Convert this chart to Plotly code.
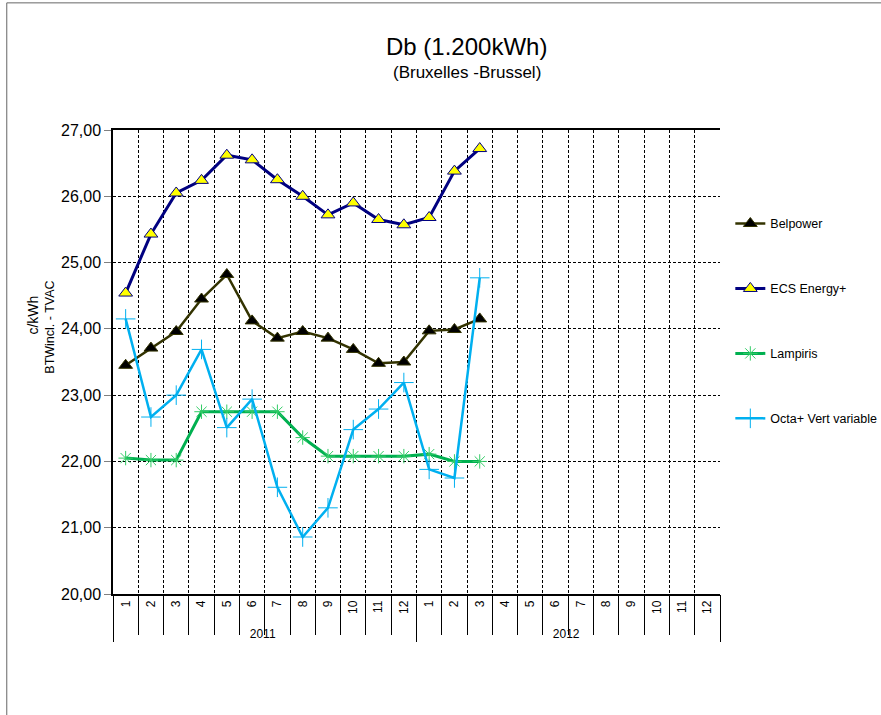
import plotly.graph_objects as go

years_all = ["2011"] * 12 + ["2012"] * 12
months_all = [str(m) for m in range(1, 13)] * 2
slot_keys = [y + "-" + m for y, m in zip(years_all, months_all)]

# data points: 2011 months 1-12 and 2012 months 1-3
data_years = ["2011"] * 12 + ["2012"] * 3
data_months = [str(m) for m in range(1, 13)] + ["1", "2", "3"]

belpower = [23.45, 23.71, 23.96, 24.45, 24.82, 24.12, 23.86, 23.96, 23.86, 23.69, 23.48, 23.50,
            23.97, 23.99, 24.15]
ecs_energy = [24.54, 25.43, 26.05, 26.24, 26.62, 26.55, 26.25, 26.00, 25.72, 25.90, 25.65, 25.57,
              25.68, 26.38, 26.72]
lampiris = [22.05, 22.02, 22.02, 22.75, 22.75, 22.75, 22.75, 22.36, 22.08, 22.08, 22.08, 22.08,
            22.11, 22.00, 22.00]
octa_vert = [24.15, 22.67, 23.00, 23.69, 22.51, 22.94, 21.61, 20.86, 21.30, 22.48, 22.79, 23.19,
             21.88, 21.75, 24.77]

FONT = "Liberation Sans, Arial, sans-serif"

fig = go.Figure()

# invisible traces to establish all 24 categories on both x axes
fig.add_trace(go.Scatter(x=[years_all, months_all], y=[None] * 24, mode="markers",
                         showlegend=False, hoverinfo="skip", marker=dict(opacity=0)))
fig.add_trace(go.Scatter(x=slot_keys, y=[None] * 24, xaxis="x2", mode="markers",
                         showlegend=False, hoverinfo="skip", marker=dict(opacity=0)))

fig.add_trace(go.Scatter(
    x=[data_years, data_months], y=belpower, name="Belpower", legendgroup="a",
    mode="lines+markers", line=dict(color="#333300", width=2.5),
    marker=dict(symbol="triangle-up", size=12, color="#000000", line=dict(color="#333300", width=1))))
fig.add_trace(go.Scatter(
    x=[data_years, data_months], y=ecs_energy, name="ECS Energy+", legendgroup="b",
    mode="lines+markers", line=dict(color="#000080", width=3),
    marker=dict(symbol="triangle-up", size=12, color="#ffff00", line=dict(color="#000080", width=1))))
fig.add_trace(go.Scatter(
    x=[data_years, data_months], y=lampiris, name="Lampiris", legendgroup="c",
    mode="lines+markers", line=dict(color="#00b050", width=3),
    marker=dict(symbol="asterisk-open", size=12, color="#33cc66", line=dict(color="#33cc66", width=1))))
fig.add_trace(go.Scatter(
    x=[data_years, data_months], y=octa_vert, name="Octa+ Vert variable", legendgroup="d",
    mode="lines+markers", line=dict(color="#00b0f0", width=2.5),
    marker=dict(symbol="cross-thin-open", size=14, color="#00b0f0", line=dict(color="#00b0f0", width=1))))

# outer chart frame
fig.add_shape(type="rect", xref="paper", yref="paper", x0=-0.175, x1=2.0, y0=-0.6, y1=1.274,
              line=dict(color="#666666", width=1), layer="below")

fig.add_annotation(text="Db (1.200kWh)", xref="paper", yref="paper", x=0.583, y=1.181,
                   yanchor="middle", showarrow=False, font=dict(size=24, family=FONT, color="#000"))
fig.add_annotation(text="(Bruxelles -Brussel)", xref="paper", yref="paper", x=0.583, y=1.125,
                   yanchor="middle", showarrow=False, font=dict(size=17, family=FONT, color="#000"))

# y-axis title (two lines)
fig.add_annotation(text="c/kWh", xref="paper", yref="paper", x=-0.131, y=0.601, textangle=-90,
                   xanchor="center", yanchor="middle", showarrow=False,
                   font=dict(size=14, family=FONT, color="#000"))
fig.add_annotation(text="BTWincl. - TVAC", xref="paper", yref="paper", x=-0.103, y=0.575,
                   textangle=-90, xanchor="center", yanchor="middle", showarrow=False,
                   font=dict(size=12.5, family=FONT, color="#000"))

fig.update_layout(
    width=881, height=715,
    margin=dict(l=113, r=161, t=130, b=121, autoexpand=False),
    paper_bgcolor="white", plot_bgcolor="white",
    separators=", ",
    font=dict(family=FONT, color="#000", size=12),
    showlegend=True,
    legend=dict(x=1.017, y=0.83, xanchor="left", yanchor="top", tracegroupgap=45.7,
                font=dict(size=12.5, family=FONT), itemwidth=30, bgcolor="rgba(0,0,0,0)"),
    xaxis=dict(type="multicategory", range=[-0.5, 23.5], showline=True, linecolor="#000",
               linewidth=1.5, mirror=True, ticks="outside", ticklen=5, tickcolor="#000",
               tickangle=-90, tickfont=dict(size=12, family=FONT),
               showgrid=True, gridcolor="#000", gridwidth=1, griddash="3px,2px",
               showdividers=True, dividercolor="#000", dividerwidth=1, zeroline=False),
    xaxis2=dict(type="category", overlaying="x", anchor="y", side="bottom",
                categoryorder="array", categoryarray=slot_keys, range=[-0.5, 23.5],
                tickson="boundaries", ticks="outside", ticklen=40, tickcolor="#000", tickwidth=1,
                showticklabels=False, showgrid=False, showline=False, zeroline=False),
    yaxis=dict(range=[20, 27], dtick=1, tickformat=".2f", showline=True, linecolor="#000",
               linewidth=1.5, ticks="outside", ticklen=7, tickcolor="#808080",
               tickfont=dict(size=16, family=FONT),
               showgrid=True, gridcolor="#000", gridwidth=1, griddash="3px,2px", zeroline=False),
)

fig.write_html("out.html", config={"displayModeBar": False},
               post_script="document.body.style.margin='0';")
